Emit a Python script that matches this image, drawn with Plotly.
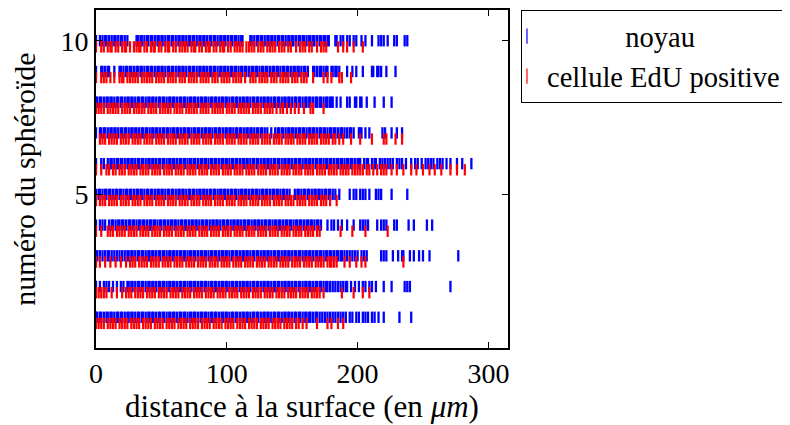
import plotly.graph_objects as go

spheroides = [1, 2, 3, 4, 5, 6, 7, 8, 9, 10]

# distances (µm) des noyaux, par sphéroïde
noyau_1 = [0, 1, 3, 4, 6, 8, 9, 11, 12, 14, 16, 17, 19, 20, 22, 24, 25, 27, 28, 30, 32, 33, 35, 36, 38, 40, 41, 43, 44, 46, 48, 49, 51, 52, 54, 56, 57, 59, 60, 62, 64, 65, 67, 68, 70, 72, 73, 75, 76, 78, 80, 81, 83, 84, 86, 88, 89, 91, 92, 94, 96, 97, 99, 100, 102, 104, 105, 107, 108, 110, 112, 113, 115, 116, 118, 120, 121, 123, 124, 126, 128, 129, 131, 132, 134, 136, 137, 139, 140, 142, 144, 145, 147, 148, 150, 152, 153, 155, 156, 158, 160, 161, 163, 164, 166, 168, 169, 171, 173, 175, 177, 179, 181, 183, 185, 187, 189, 191, 194, 196, 199, 201, 204, 206, 208, 211, 213, 216, 220, 232, 241]
noyau_2 = [0, 3, 6, 8, 10, 13, 16, 19, 21, 24, 25, 27, 28, 30, 32, 33, 35, 36, 38, 40, 41, 43, 44, 46, 48, 49, 51, 52, 54, 56, 57, 59, 60, 62, 64, 65, 67, 68, 70, 72, 73, 75, 76, 78, 80, 81, 83, 84, 86, 88, 89, 91, 92, 94, 96, 97, 99, 100, 102, 104, 105, 107, 108, 110, 112, 113, 115, 116, 118, 120, 121, 123, 124, 126, 128, 129, 131, 132, 134, 136, 137, 139, 140, 142, 144, 145, 147, 148, 150, 152, 153, 155, 156, 158, 160, 161, 163, 164, 166, 168, 169, 171, 172, 174, 176, 177, 179, 181, 183, 185, 187, 189, 191, 192, 195, 198, 201, 204, 206, 209, 211, 214, 220, 226, 236, 238, 240, 271]
noyau_3 = [0, 1, 3, 5, 7, 9, 10, 12, 14, 16, 18, 20, 22, 24, 25, 27, 28, 30, 32, 33, 35, 36, 38, 40, 41, 43, 44, 46, 48, 49, 51, 52, 54, 56, 57, 59, 60, 62, 64, 65, 67, 68, 70, 72, 73, 75, 76, 78, 80, 81, 83, 84, 86, 88, 89, 91, 92, 94, 96, 97, 99, 100, 102, 104, 105, 107, 108, 110, 112, 113, 115, 116, 118, 120, 121, 123, 124, 126, 128, 129, 131, 132, 134, 136, 137, 139, 140, 142, 144, 145, 147, 148, 150, 152, 153, 155, 156, 158, 160, 161, 163, 164, 166, 168, 169, 171, 172, 174, 176, 177, 179, 180, 182, 184, 185, 187, 188, 190, 192, 194, 196, 198, 200, 203, 205, 207, 218, 220, 222, 227, 231, 234, 235, 240, 243, 247, 250, 255, 277]
noyau_4 = [0, 3, 5, 7, 10, 12, 13, 15, 17, 18, 20, 21, 23, 25, 26, 28, 29, 31, 33, 34, 36, 37, 39, 41, 42, 44, 45, 47, 49, 50, 52, 53, 55, 57, 58, 60, 61, 63, 65, 66, 68, 69, 71, 73, 74, 76, 77, 79, 81, 82, 84, 85, 87, 89, 90, 92, 93, 95, 97, 98, 100, 101, 103, 105, 106, 108, 109, 111, 113, 114, 116, 117, 119, 121, 122, 124, 125, 127, 129, 130, 132, 133, 135, 137, 138, 140, 141, 143, 145, 146, 148, 149, 151, 153, 154, 156, 157, 159, 161, 162, 164, 165, 167, 169, 170, 172, 177, 180, 182, 185, 188, 192, 197, 202, 204, 206, 208, 215, 218, 220, 222, 228, 230, 239, 243, 253, 257]
noyau_5 = [0, 2, 3, 5, 7, 8, 10, 11, 13, 15, 16, 18, 19, 21, 23, 24, 26, 27, 29, 31, 32, 34, 35, 37, 39, 40, 42, 43, 45, 47, 48, 50, 51, 53, 55, 56, 58, 59, 61, 63, 64, 66, 67, 69, 71, 72, 74, 75, 77, 79, 80, 82, 83, 85, 87, 88, 90, 91, 93, 95, 96, 98, 99, 101, 103, 104, 106, 107, 109, 111, 112, 114, 115, 117, 119, 120, 122, 123, 125, 127, 128, 130, 131, 133, 135, 136, 138, 139, 141, 143, 144, 146, 148, 152, 154, 155, 157, 159, 160, 162, 163, 165, 167, 168, 170, 171, 173, 175, 176, 178, 179, 181, 183, 186, 194, 197, 199, 202, 204, 206, 209, 214, 216, 218, 226, 238]
noyau_6 = [0, 4, 6, 9, 11, 12, 14, 16, 17, 19, 20, 22, 24, 25, 27, 28, 30, 32, 33, 35, 36, 38, 40, 41, 43, 44, 46, 48, 49, 51, 52, 54, 56, 57, 59, 60, 62, 64, 65, 67, 68, 70, 72, 73, 75, 76, 78, 80, 81, 83, 84, 86, 88, 89, 91, 92, 94, 96, 97, 99, 100, 102, 104, 105, 107, 108, 110, 112, 113, 115, 116, 118, 120, 121, 123, 124, 126, 128, 129, 131, 132, 134, 136, 137, 139, 140, 142, 144, 145, 147, 148, 150, 152, 153, 155, 156, 158, 160, 161, 163, 164, 166, 168, 169, 171, 172, 174, 176, 177, 179, 180, 182, 184, 185, 187, 188, 190, 192, 193, 195, 196, 198, 200, 201, 202, 205, 207, 208, 211, 213, 214, 217, 219, 221, 223, 225, 227, 230, 232, 234, 237, 241, 244, 246, 249, 252, 254, 256, 258, 261, 263, 265, 268, 271, 276, 280, 287]
noyau_7 = [0, 3, 4, 6, 7, 9, 11, 12, 14, 15, 17, 19, 20, 22, 23, 25, 27, 28, 30, 31, 33, 35, 36, 38, 39, 41, 43, 44, 46, 47, 49, 51, 52, 54, 55, 57, 59, 60, 62, 63, 65, 67, 68, 70, 71, 73, 75, 76, 78, 79, 81, 83, 84, 86, 87, 89, 91, 92, 94, 95, 97, 99, 100, 102, 103, 105, 107, 108, 110, 111, 113, 115, 116, 118, 119, 121, 123, 124, 126, 127, 129, 131, 134, 137, 139, 140, 142, 143, 145, 147, 148, 150, 151, 153, 155, 156, 158, 159, 161, 163, 164, 166, 167, 169, 171, 172, 174, 175, 177, 179, 180, 182, 183, 185, 187, 188, 190, 192, 194, 195, 197, 201, 202, 203, 206, 209, 219, 221, 226, 230, 234]
noyau_8 = [0, 1, 3, 4, 6, 8, 9, 11, 12, 14, 16, 17, 19, 20, 22, 24, 25, 27, 28, 30, 32, 33, 35, 36, 38, 40, 41, 43, 44, 46, 48, 49, 51, 52, 54, 56, 57, 59, 60, 62, 64, 65, 67, 68, 70, 72, 73, 75, 76, 78, 80, 81, 83, 84, 86, 88, 89, 91, 92, 94, 96, 97, 99, 100, 102, 104, 105, 107, 108, 110, 112, 113, 115, 116, 118, 120, 121, 123, 124, 126, 128, 129, 131, 132, 134, 136, 137, 139, 140, 142, 144, 145, 147, 148, 150, 152, 153, 155, 156, 158, 160, 161, 163, 164, 166, 168, 169, 171, 172, 174, 176, 177, 179, 180, 181, 184, 187, 192, 194, 198, 199, 202, 203, 207, 213, 220, 226]
noyau_9 = [0, 4, 5, 7, 9, 10, 14, 18, 19, 21, 23, 24, 26, 27, 29, 31, 32, 34, 35, 37, 39, 40, 42, 43, 45, 47, 48, 50, 51, 53, 55, 56, 58, 59, 61, 63, 64, 66, 67, 69, 71, 72, 74, 75, 77, 79, 80, 82, 83, 85, 87, 88, 90, 91, 93, 95, 96, 98, 99, 101, 103, 104, 106, 107, 109, 111, 112, 114, 115, 117, 119, 120, 122, 123, 125, 127, 128, 130, 131, 133, 135, 136, 138, 139, 141, 143, 144, 146, 147, 149, 151, 152, 154, 155, 157, 159, 160, 162, 166, 167, 169, 171, 172, 174, 176, 177, 180, 181, 183, 184, 186, 192, 196, 199, 204, 211, 212, 215, 216, 218, 222, 229]
noyau_10 = [0, 3, 5, 7, 8, 10, 12, 14, 15, 17, 19, 20, 22, 24, 31, 32, 34, 35, 37, 39, 40, 42, 43, 45, 47, 48, 50, 51, 53, 55, 56, 58, 59, 61, 63, 64, 66, 67, 69, 71, 72, 74, 75, 77, 79, 80, 82, 83, 85, 87, 88, 90, 91, 93, 95, 96, 98, 99, 101, 103, 104, 106, 107, 109, 111, 112, 118, 119, 121, 123, 124, 126, 127, 129, 131, 132, 134, 135, 137, 139, 140, 142, 143, 145, 147, 148, 150, 151, 153, 155, 156, 158, 159, 161, 163, 164, 166, 167, 169, 171, 172, 174, 175, 177, 178, 183, 184, 187, 189, 192, 194, 197, 199, 203, 206, 211, 216, 218, 220, 223, 228, 230, 236, 238]

# distances (µm) des cellules EdU positives, par sphéroïde
edu_1 = [0, 2, 4, 6, 9, 11, 13, 15, 18, 20, 22, 24, 27, 29, 31, 33, 36, 38, 40, 42, 45, 47, 49, 51, 54, 56, 58, 60, 63, 65, 67, 69, 72, 74, 76, 78, 81, 83, 85, 87, 90, 92, 94, 96, 99, 101, 103, 105, 108, 110, 112, 114, 117, 119, 121, 123, 126, 128, 130, 132, 135, 137, 139, 141, 144, 146, 148, 150, 153, 155, 158, 161, 169, 177, 180, 185, 189]
edu_2 = [0, 2, 4, 6, 8, 12, 16, 20, 23, 25, 27, 30, 32, 34, 36, 39, 41, 43, 45, 48, 50, 52, 54, 57, 59, 61, 63, 66, 68, 70, 72, 75, 77, 79, 81, 84, 86, 88, 90, 93, 95, 97, 99, 102, 104, 106, 108, 111, 113, 115, 117, 120, 122, 124, 126, 129, 131, 133, 135, 138, 140, 142, 144, 147, 149, 151, 153, 156, 158, 160, 162, 165, 167, 169, 171, 174, 188, 197, 204, 209]
edu_3 = [0, 3, 7, 11, 15, 19, 23, 26, 28, 30, 33, 35, 37, 39, 42, 44, 46, 48, 51, 53, 55, 57, 60, 62, 64, 66, 69, 71, 73, 75, 78, 80, 82, 84, 87, 89, 91, 93, 96, 98, 100, 102, 105, 107, 109, 111, 114, 116, 118, 120, 123, 125, 127, 129, 132, 134, 136, 138, 141, 143, 145, 147, 150, 152, 154, 156, 159, 161, 163, 165, 168, 170, 172, 174, 177, 179, 180, 182, 184, 190, 194, 199, 203, 206, 235]
edu_4 = [0, 4, 9, 11, 13, 16, 18, 20, 22, 25, 27, 29, 31, 34, 36, 38, 40, 43, 45, 47, 49, 52, 54, 56, 58, 61, 63, 65, 67, 70, 72, 74, 76, 79, 81, 83, 85, 88, 90, 92, 94, 97, 99, 101, 103, 106, 108, 110, 112, 115, 117, 119, 121, 124, 126, 128, 130, 133, 135, 137, 139, 142, 144, 146, 148, 151, 153, 155, 157, 160, 162, 164, 166, 169, 171, 187, 196, 206, 223]
edu_5 = [0, 3, 5, 7, 10, 12, 14, 16, 19, 21, 23, 25, 28, 30, 32, 34, 37, 39, 41, 43, 46, 48, 50, 52, 55, 57, 59, 61, 64, 66, 68, 70, 73, 75, 77, 79, 82, 84, 86, 88, 91, 93, 95, 97, 100, 102, 104, 106, 109, 111, 113, 115, 118, 120, 122, 124, 127, 129, 131, 133, 136, 138, 140, 142, 145, 147, 149, 151, 154, 156, 158, 160, 163, 165, 167, 169, 172, 174, 176, 179, 184]
edu_6 = [0, 4, 8, 10, 13, 15, 18, 20, 22, 25, 27, 29, 31, 34, 36, 38, 40, 43, 45, 47, 49, 52, 54, 56, 58, 61, 63, 65, 67, 70, 72, 74, 76, 79, 81, 83, 85, 88, 90, 92, 94, 97, 99, 101, 103, 106, 108, 110, 112, 115, 117, 119, 121, 124, 126, 128, 130, 133, 135, 137, 139, 142, 144, 146, 148, 151, 153, 155, 157, 160, 162, 164, 166, 169, 171, 173, 175, 178, 180, 182, 184, 187, 189, 191, 193, 196, 198, 200, 202, 204, 207, 209, 212, 215, 218, 220, 222, 226, 230, 235, 241, 245, 250, 255, 259, 264, 271, 276, 282]
edu_7 = [3, 5, 7, 10, 12, 14, 16, 19, 21, 23, 25, 28, 30, 32, 34, 37, 39, 41, 43, 46, 48, 50, 52, 55, 57, 59, 61, 64, 66, 68, 70, 73, 75, 77, 79, 82, 84, 86, 88, 91, 93, 95, 97, 100, 102, 104, 106, 109, 111, 113, 115, 118, 120, 122, 124, 127, 129, 131, 133, 136, 138, 140, 142, 145, 147, 149, 151, 154, 156, 158, 160, 163, 165, 167, 169, 172, 174, 176, 178, 181, 183, 186, 189, 195, 202, 211, 220, 222, 229, 234]
edu_8 = [0, 2, 4, 6, 9, 11, 13, 15, 17, 20, 22, 24, 26, 29, 31, 33, 35, 37, 40, 42, 44, 46, 49, 51, 53, 55, 57, 60, 62, 64, 66, 69, 71, 73, 75, 77, 80, 82, 84, 86, 89, 91, 93, 95, 97, 100, 102, 104, 106, 109, 111, 113, 115, 117, 120, 122, 124, 126, 129, 131, 133, 135, 138, 141, 143, 146, 149, 152, 155, 159, 164, 166, 174]
edu_9 = [0, 4, 6, 8, 11, 14, 18, 20, 21, 24, 26, 28, 30, 32, 35, 37, 39, 41, 43, 46, 48, 50, 52, 55, 57, 59, 61, 64, 66, 68, 71, 73, 75, 77, 80, 82, 84, 86, 89, 91, 93, 96, 98, 100, 102, 105, 107, 109, 111, 114, 118, 120, 122, 125, 127, 129, 131, 134, 136, 138, 141, 143, 145, 147, 150, 152, 154, 157, 159, 161, 166, 174, 177, 180, 186, 188, 195]
edu_10 = [0, 4, 6, 9, 11, 12, 15, 17, 20, 22, 23, 26, 29, 31, 33, 34, 37, 39, 42, 44, 45, 48, 50, 53, 55, 56, 59, 61, 64, 66, 68, 70, 73, 75, 76, 79, 81, 84, 86, 87, 90, 92, 95, 97, 98, 101, 103, 106, 108, 110, 112, 115, 117, 119, 121, 124, 126, 128, 131, 133, 135, 137, 140, 142, 144, 147, 149, 153, 156, 158, 160, 163, 165, 169, 172, 174, 176, 185, 189, 192, 197, 204]

noyaux = [noyau_1, noyau_2, noyau_3, noyau_4, noyau_5, noyau_6, noyau_7, noyau_8, noyau_9, noyau_10]
edus = [edu_1, edu_2, edu_3, edu_4, edu_5, edu_6, edu_7, edu_8, edu_9, edu_10]

x_ticks = [0, 100, 200, 300]
y_ticks = [5, 10]

HALF = 0.185
RED_SHIFT = -0.2
FONT = "'Liberation Serif', 'Times New Roman', serif"


def segments(groups, shift):
    xs, ys = [], []
    for s, vals in zip(spheroides, groups):
        c = s + shift
        for v in vals:
            xs += [v, v, None]
            ys += [c - HALF, c + HALF, None]
    return xs, ys


fig = go.Figure()
bx, by = segments(noyaux, 0.0)
rx, ry = segments(edus, RED_SHIFT)
fig.add_trace(go.Scatter(x=bx, y=by, mode="lines", line=dict(color="#0000ff", width=2.3),
                         showlegend=False, hoverinfo="skip"))
fig.add_trace(go.Scatter(x=rx, y=ry, mode="lines", line=dict(color="#ff0000", width=2.2),
                         showlegend=False, hoverinfo="skip"))
# legend entries (vertical tick symbols)
fig.add_trace(go.Scatter(x=[None], y=[None], mode="markers", name="\u00a0" * 11 + "noyau",
                         marker=dict(symbol="line-ns", size=11, color="#0000ff",
                                     line=dict(color="#0000ff", width=1.2))))
fig.add_trace(go.Scatter(x=[None], y=[None], mode="markers", name="cellule EdU positive",
                         marker=dict(symbol="line-ns", size=11, color="#ff0000",
                                     line=dict(color="#ff0000", width=1.2))))

axis_common = dict(showgrid=False, zeroline=False, showline=True, linecolor="black", linewidth=1.6,
                   mirror="ticks", ticks="inside", ticklen=6, tickcolor="black", tickwidth=1,
                   automargin=False,
                   tickfont=dict(family=FONT, size=28, color="black"))

# the page body adds an 8 px offset, so the figure is sized 782 x 417
fig.update_layout(
    width=782, height=417,
    margin=dict(l=88, r=282, t=2, b=77, autoexpand=False),
    paper_bgcolor="white", plot_bgcolor="white",
    font=dict(family=FONT, color="black"),
    xaxis=dict(range=[0, 315], tickvals=x_ticks, ticktext=[str(v) for v in x_ticks],
               title=dict(text="distance à la surface (en <i>μm</i>)", font=dict(family=FONT, size=31),
                          standoff=4),
               **axis_common),
    yaxis=dict(range=[0, 11], tickvals=y_ticks, ticktext=[str(v) for v in y_ticks],
               title=dict(text="numéro du sphéroïde", font=dict(family=FONT, size=30), standoff=21),
               **axis_common),
    legend=dict(xref="container", yref="container", x=0.656, y=0.995, xanchor="left", yanchor="top",
                bgcolor="white", bordercolor="black", borderwidth=1,
                font=dict(family=FONT, size=28.5, color="black"),
                tracegroupgap=0, indentation=-15, itemwidth=30),
)

fig.write_html("out.html")
